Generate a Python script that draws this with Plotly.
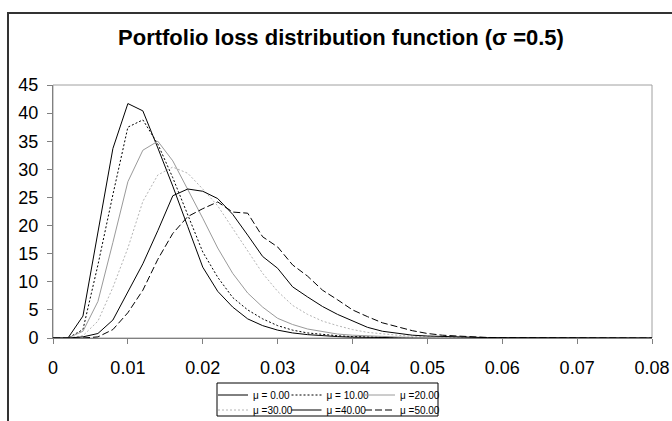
import plotly.graph_objects as go

loss = [0.000, 0.002, 0.004, 0.006, 0.008, 0.010, 0.012, 0.014, 0.016, 0.018,
        0.020, 0.022, 0.024, 0.026, 0.028, 0.030, 0.032, 0.034, 0.036, 0.038,
        0.040, 0.042, 0.044, 0.046, 0.048, 0.050, 0.052, 0.054, 0.056, 0.058,
        0.060, 0.062, 0.064, 0.066, 0.068, 0.070, 0.072, 0.074, 0.076, 0.078,
        0.080]

mu_0 = [0, 0, 3.9, 19, 33.7, 41.7, 40.4, 33.8, 27, 19.8,
        12.6, 8.3, 5.5, 3.4, 2.2, 1.4, 0.9, 0.6, 0.4, 0.25,
        0.15, 0.1, 0.06, 0.04, 0.02, 0.01, 0, 0, 0, 0,
        0, 0, 0, 0, 0, 0, 0, 0, 0, 0, 0]
mu_10 = [0, 0, 1.5, 13, 25.5, 37.5, 38.8, 34.5, 28.5, 21.8,
         15.3, 10.8, 7.2, 5.0, 3.4, 2.2, 1.4, 0.9, 0.6, 0.4,
         0.25, 0.16, 0.1, 0.06, 0.04, 0.02, 0.01, 0, 0, 0,
         0, 0, 0, 0, 0, 0, 0, 0, 0, 0, 0]
mu_20 = [0, 0, 1.2, 6.5, 17, 27.8, 33.4, 35, 31.5, 26.5,
         21.3, 16, 11.5, 8, 5.5, 3.5, 2.4, 1.6, 1.1, 0.7,
         0.5, 0.35, 0.25, 0.18, 0.12, 0.08, 0.05, 0.03, 0.02, 0.01,
         0, 0, 0, 0, 0, 0, 0, 0, 0, 0, 0]
mu_30 = [0, 0, 0.4, 3, 9, 16, 24.3, 29, 30.4, 29.3,
         26.5, 23.5, 19.5, 15.5, 11.5, 8.3, 5.8, 4.2, 3.0, 2.2,
         1.5, 1.0, 0.7, 0.5, 0.3, 0.2, 0.13, 0.08, 0.05, 0.03,
         0.02, 0.01, 0, 0, 0, 0, 0, 0, 0, 0, 0]
mu_40 = [0, 0, 0.2, 0.8, 3.2, 8.1, 13.2, 19.1, 25.3, 26.5,
         26.1, 24.8, 22, 18.3, 14.5, 12.4, 9.1, 7.3, 5.6, 4.2,
         3.0, 1.9, 1.2, 0.8, 0.5, 0.35, 0.25, 0.15, 0.1, 0.07,
         0.05, 0.03, 0.02, 0.01, 0, 0, 0, 0, 0, 0, 0]
mu_50 = [0, 0, 0, 0.2, 1.5, 4.5, 8.5, 14, 18.6, 21.6,
         23, 24.2, 22.4, 22.2, 18, 16.2, 13, 11, 8.5, 6.8,
         5.0, 3.8, 2.7, 2.0, 1.3, 0.8, 0.5, 0.35, 0.2, 0.1,
         0.06, 0.04, 0.02, 0.01, 0, 0, 0, 0, 0, 0, 0]

series_names = ["μ = 0.00", "μ = 10.00", "μ =20.00", "μ =30.00", "μ =40.00", "μ =50.00"]
series_values = [mu_0, mu_10, mu_20, mu_30, mu_40, mu_50]
series_colors = ["#000000", "#000000", "#9a9a9a", "#b4b4b4", "#000000", "#000000"]
series_dash = ["solid", "2px,2px", "solid", "2px,2px", "solid", "7px,3px"]
series_legend = ["legend", "legend", "legend", "legend2", "legend2", "legend2"]
series_entry_w = [28.5, 28.5, 45, 28.5, 28.5, 45]

title_text = "Portfolio loss distribution function (σ =0.5)"

fig = go.Figure()
for name, vals, col, dash, lg, ew in zip(series_names, series_values, series_colors,
                                          series_dash, series_legend, series_entry_w):
    fig.add_trace(go.Scatter(x=loss, y=vals, mode="lines", name=name, legend=lg,
                             legendwidth=ew,
                             line=dict(color=col, width=1, dash=dash)))

W, H = 672, 421
L, R, T, B = 53, 652, 85, 338
pw, ph = R - L, B - T

def px(xp):
    return (xp - L) / pw

def py(yp):
    return (B - yp) / ph

FONT = "Liberation Sans, Arial, sans-serif"

legend_common = dict(orientation="h", bgcolor="rgba(0,0,0,0)", borderwidth=0,
                      font=dict(family=FONT, size=10, color="#000"),
                      entrywidth=28.5, itemwidth=30, xanchor="left", yanchor="middle",
                      tracegroupgap=0, traceorder="normal")

fig.update_layout(
    width=W, height=H,
    margin=dict(l=L, r=W - R, t=T, b=H - B, autoexpand=False),
    paper_bgcolor="white", plot_bgcolor="white",
    font=dict(family=FONT, color="#000"),
    title=dict(text="<b>" + title_text + "</b>", x=341 / W, xref="container", xanchor="center",
               y=1 - 37 / H, yref="container", yanchor="middle",
               font=dict(size=22, color="#000")),
    xaxis=dict(range=[0, 0.08], dtick=0.01, tick0=0, showgrid=False, zeroline=False,
               showline=True, linecolor="#808080", linewidth=1,
               ticks="outside", ticklen=5, tickcolor="#808080",
               tickfont=dict(size=18), ticklabelstandoff=8),
    yaxis=dict(range=[0, 45], dtick=5, tick0=0, showgrid=False, zeroline=False,
               showline=True, linecolor="#808080", linewidth=1,
               ticks="outside", ticklen=5, tickcolor="#808080",
               tickfont=dict(size=18), ticklabelstandoff=5),
    legend=dict(x=px(213), y=py(395), **legend_common),
    legend2=dict(x=px(213), y=py(410), **legend_common),
    shapes=[
        # plot area border
        dict(type="rect", xref="paper", yref="paper", x0=0, y0=0, x1=1, y1=1,
             line=dict(color="#a0a0a0", width=1), layer="below"),
        # chart area frame (left and top edges)
        dict(type="path", xref="paper", yref="paper",
             path="M {:.5f},{:.5f} L {:.5f},{:.5f} L {:.5f},{:.5f}".format(
                 px(8), py(440), px(8), py(13), px(680), py(13)),
             line=dict(color="#333333", width=2)),
        # legend box
        dict(type="rect", xref="paper", yref="paper", x0=px(217), y0=py(416), x1=px(438), y1=py(383),
             line=dict(color="#000000", width=1)),
    ],
)

fig.write_html("out.html", config={"displayModeBar": False},
               post_script="document.body.style.margin='0';document.body.style.overflow='hidden';")
